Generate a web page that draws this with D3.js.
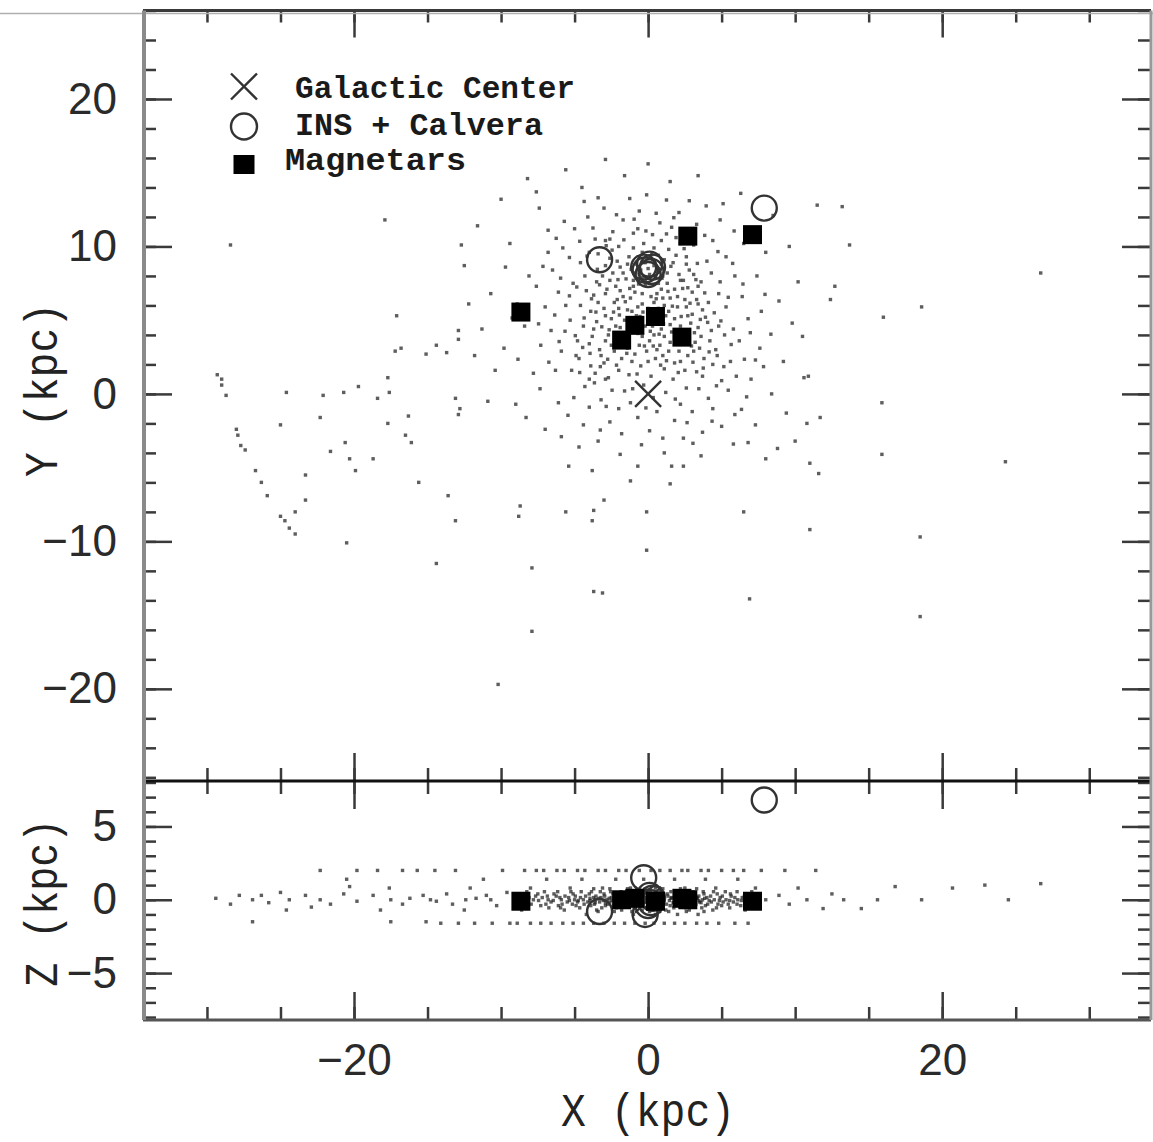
<!DOCTYPE html>
<html>
<head>
<meta charset="utf-8">
<script src="https://cdn.jsdelivr.net/npm/d3@7"></script>
<style>
body { margin: 0; background: #fff; }
</style>
</head>
<body>
<div id="container"></div>
<script>
// positions in kpc
var gcX = [0], gcY = [0], gcZ = [0];

var insX = [-0.3, 0.2, 0.1, -0.2, 0.3, 0.0, -3.3, 7.9];
var insY = [8.6, 8.3, 8.8, 8.4, 8.6, 8.1, 9.1, 12.6];
var insZ = [1.5, -0.2, 0.3, -1.0, 0.1, -0.4, -0.8, 6.8];

var magX = [-8.65, 2.7, 7.1, -0.9, 0.5, -1.8, 2.3];
var magY = [5.55, 10.7, 10.8, 4.65, 5.25, 3.65, 3.85];
var magZ = [-0.1, 0.0, -0.1, 0.1, -0.1, 0.0, 0.1];

// simulated population, X-Y projection
var xyDots = [
  // sparse field
  [-17.9,11.8],[-28.4,10.1],[-12.7,10.1],[-17.1,5.3],[-12.9,4.3],[-12.9,3.7],[-17.2,2.9],[-16.8,3.1],[-14.4,3.3],[-15.1,2.7],
  [-13.7,2.8],[-29.3,1.3],[-29.0,1.0],[-29.0,0.6],[-28.7,-0.1],[-24.6,0.1],[-22.1,-0.1],[-20.7,0.1],[-19.7,0.5],[-17.7,1.1],
  [-17.6,0.1],[-18.4,-0.3],[-13.1,-0.3],[-12.8,-1.0],[-12.9,-1.4],[-22.3,-1.6],[-25.0,-2.1],[-28.0,-2.4],[-27.9,-2.8],[-27.7,-3.5],
  [-27.4,-3.8],[-17.7,-2.0],[-16.3,-1.5],[-16.5,-2.8],[-16.1,-3.3],[-20.6,-3.3],[-21.6,-3.9],[-20.3,-4.4],[-18.7,-4.4],[-19.9,-5.2],
  [-26.7,-5.2],[-23.3,-5.5],[-26.3,-6.0],[-25.9,-6.9],[-23.3,-7.2],[-24.0,-8.0],[-25.0,-8.3],[-24.7,-8.6],[-24.4,-9.1],[-24.0,-9.5],
  [-20.5,-10.1],[-15.6,-6.0],[-13.6,-6.9],[-13.1,-8.6],[-8.7,-7.6],[-8.8,-8.3],[-14.4,-11.5],[-7.9,-11.8],[-7.9,-16.1],[-10.2,-19.7],
  [15.9,-4.1],[11.6,-5.4],[6.5,-8.0],[11.0,-9.2],[-0.1,-8.0],[-0.1,-10.6],[-3.7,-7.9],[-3.8,-8.6],[-5.6,-8.0],[-3.0,-7.2],
  [-3.1,-13.5],[-3.7,-13.4],[6.9,-13.9],[18.5,-15.1],[-1.2,-5.9],[1.5,-6.1],[-3.8,-5.2],[-5.4,-4.9],[-0.7,-4.9],[1.6,-4.9],
  [2.4,-4.9],[8.0,-4.4],[8.8,-3.7],[10.0,-3.2],[10.8,-2.0],[11.5,12.8],[13.2,12.7],[13.7,10.1],[12.7,7.3],[12.4,6.4],
  [16.0,5.2],[18.6,5.9],[10.5,3.9],[10.9,1.2],[26.7,8.2],[15.9,-0.6],[11.7,-1.6],[11.0,-4.7],[24.3,-4.6],[18.5,-9.7],
  // outer cloud
  [-12.5,8.7],[-11.6,11.4],[-10.0,13.2],[-8.2,14.6],[-5.6,15.2],[-2.9,15.9],[0.0,15.6],[-1.6,14.8],[3.4,14.8],[6.3,13.6],
  [8.5,12.1],[9.6,10.0],[10.2,7.6],[9.8,4.8],[9.2,2.2],[8.4,0.0],[7.3,-2.1],[5.8,-3.4],[3.6,-4.2],[1.1,-4.0],
  [-1.9,-4.1],[-4.7,-3.6],[-7.0,-2.4],[-9.0,-0.7],[-10.4,1.6],[-11.3,4.4],[-10.7,6.8],[-9.4,10.2],[-7.4,12.6],[-4.5,14.0],
  [-9.8,3.1],[-8.9,6.1],[-9.7,8.6],[-6.8,11.1],[-11.8,2.6],[-10.9,-0.5],[-8.3,-1.6],[-5.9,-2.9],[8.9,6.3],[8.0,9.6],
  [5.1,12.9],[1.5,14.4],[-7.6,13.7],[-12.2,6.1],[9.4,-1.3],[6.8,-3.3],[-3.4,-3.2],[0.1,-2.5],[2.4,-3.0],[10.6,1.1],
  // middle cloud
  [-6.5,8.4],[-5.8,9.9],[-5.0,11.2],[-4.1,12.0],[-3.0,12.6],[-1.7,11.8],[-0.6,12.4],[0.8,11.6],[2.1,12.3],[3.3,11.5],
  [4.4,10.4],[5.3,9.3],[5.9,8.0],[6.4,6.6],[6.8,5.1],[6.2,3.6],[5.6,2.2],[5.0,0.9],[4.1,-0.3],[3.0,-1.2],
  [1.8,-1.8],[0.6,-1.2],[-0.7,-1.6],[-2.0,-1.0],[-3.2,-0.4],[-4.3,0.5],[-5.2,1.6],[-5.9,2.9],[-6.6,4.3],[-7.0,5.9],
  [-6.1,6.9],[-5.3,5.0],[-4.8,3.6],[-4.6,8.9],[-3.6,10.5],[-2.4,11.0],[-1.0,10.9],[0.3,10.8],[1.9,10.6],[3.1,10.1],
  [4.0,9.0],[4.9,7.6],[5.3,5.9],[4.8,4.6],[4.6,3.0],[3.7,1.2],[2.6,0.4],[1.2,0.1],[-0.3,0.6],[-1.6,0.2],
  [-2.9,1.0],[-3.9,1.9],[-4.9,2.6],[-5.6,6.0],[-5.1,7.5],[-4.0,9.6],[-2.9,10.4],[5.8,4.4],[6.0,1.2],[4.4,-1.0],
  [2.2,-0.7],[-1.2,-0.6],[-4.0,-0.9],[-6.3,1.6],[-7.3,3.3],[-7.6,7.3],[-6.8,9.6],[-5.7,11.7],[-3.4,13.3],[-0.1,13.5],
  [2.8,13.1],[4.9,11.8],[6.5,10.2],[7.4,8.0],[7.7,5.6],[7.6,3.1],[7.0,1.0],[5.9,-1.4],[3.7,-2.6],[1.0,-3.0],
  [-1.8,-2.7],[-4.4,-2.1],[-6.1,-0.6],[-7.8,1.4],[-8.4,4.6],[-8.1,8.0],[6.7,-0.2],[7.3,2.3],[5.0,-2.2],[-2.6,-1.9],
  [-4.35,5.15],[-3.85,6.45],[-3.15,4.55],[-2.75,2.35],[-2.35,5.55],[-1.85,3.25],[-1.55,6.25],[-1.25,7.15],[-0.85,4.65],[-0.55,5.25],
  [-0.25,3.25],[0.15,4.25],[0.45,5.75],[0.75,4.05],[1.05,4.75],[1.35,6.95],[1.65,5.95],[1.95,4.35],[2.25,5.25],[2.55,3.75],
  [2.85,6.15],[3.15,4.15],[3.55,5.05],[3.85,6.85],[4.05,4.85],[-3.45,8.45],[-2.45,9.75],[-1.15,8.45],[0.25,9.45],[1.55,8.65],
  [2.45,9.85],[3.35,8.85],[-3.95,2.75],[-2.15,1.95],[-0.75,1.35],[0.85,1.95],[2.05,1.45],[3.05,2.15],[4.15,2.85],[4.95,4.95],
  [-4.85,7.25],[-4.45,3.15],[-3.25,1.85],[-1.45,2.75],[0.35,3.25],[1.25,2.25],[2.95,3.25],[3.75,1.75],[-0.35,5.55],[0.55,6.45],
  [-1.95,5.35],[-2.65,4.35],[-3.55,5.55],[-2.05,7.75],[-0.65,7.45],[0.95,7.85],[2.35,7.15],[3.25,7.75],[-2.85,10.05],[-1.65,10.45],
  [-0.15,11.05],[1.25,10.85],[2.95,10.55],[-4.15,9.35],[-5.35,6.65],[-5.65,4.25],[-4.95,3.95],[5.45,6.55],[5.65,3.35],[5.15,1.85],
  [4.65,0.55],[3.45,0.35],[1.85,-0.35],[0.35,-0.25],[-1.05,0.35],[-2.45,0.25],[-3.65,0.75],[-4.65,1.45],[-6.05,3.55],[-6.35,5.35],
  [-5.95,7.85],[-5.35,9.25],[-4.65,10.35],[-3.75,11.25],[-2.15,12.15],[-0.95,11.85],[0.55,12.25],[1.75,11.95],[3.85,10.75],[4.75,9.65],
  [5.75,8.85],[6.45,7.45],[6.95,4.15],[6.55,2.35],[5.45,0.25],[4.35,-1.85],[2.65,-1.95],[-0.15,-0.95],[-2.85,-0.85],[-5.05,-0.25],
  [-6.75,2.15],[-7.45,4.75],[-7.15,8.65],[-6.25,10.55],[-4.35,13.05],[-1.25,13.25],[1.25,13.15],[3.95,12.75],[5.85,11.05],[7.95,6.75],
  [8.35,4.05],[7.85,1.85],[6.35,-1.05],[3.05,-3.35],[-0.45,-3.45],[-3.25,-2.45],[-5.45,-1.45],[-7.35,0.35],[-8.85,2.35],[-9.25,5.15],
  // core
  [-2.8,7.1],[-2.1,6.4],[-1.5,7.8],[-0.9,6.9],[-0.2,7.4],[0.6,6.8],[1.3,7.5],[2.0,6.6],[2.6,5.9],[1.8,5.1],
  [0.9,4.4],[0.1,3.6],[-0.7,4.1],[-1.4,3.1],[-2.2,4.6],[-2.9,5.3],[-3.4,6.2],[-1.1,5.6],[-0.4,6.1],[0.3,5.2],
  [1.1,6.0],[1.6,4.2],[2.3,3.4],[2.9,4.8],[3.3,6.4],[2.4,7.7],[1.0,8.0],[-0.6,8.1],[-1.9,8.6],[-2.6,9.2],
  [-3.1,8.0],[-3.7,4.4],[-2.5,3.3],[-1.8,2.4],[-0.9,2.7],[0.5,2.4],[1.4,2.9],[2.2,2.2],[3.1,2.9],[3.6,3.9],
  [3.9,5.2],[3.4,7.3],[2.8,8.4],[1.7,8.9],[0.7,9.4],[-0.4,9.6],[-1.3,9.3],[-2.2,7.3],[-1.6,5.0],[-0.2,4.6],
  [0.8,3.3],[1.9,3.8],[2.7,5.3],[1.5,6.5],[0.2,6.6],[-0.8,5.3],[-2.0,5.8],[-2.7,4.0],[-1.2,4.3],[0.4,4.0],
  [1.2,5.3],[-0.1,2.9],[-3.3,3.0],[-3.9,5.6],[-4.2,7.0],[-3.5,7.6],[4.3,4.3],[4.1,6.2],[3.8,2.4],[2.5,1.6],
  [1.1,1.7],[-0.5,1.9],[-2.0,1.6],[-3.0,2.1],[-4.0,3.4],[-1.0,7.3],[0.9,7.1],[2.1,8.1],[3.0,6.9],[-2.4,8.2],
  [0.0,5.8],[-0.6,3.3],[1.5,3.5],[3.2,3.5],[-1.7,6.6],[0.5,7.9],[-0.3,10.2],[1.4,9.8],[-2.0,10.0],[2.6,9.3],
  [-3.6,1.4],[-2.7,1.1],[-1.3,1.3],[0.2,1.2],[1.7,1.0],[3.3,1.5],[4.4,2.0],[-3.2,2.6],[-2.3,2.9],[-1.1,2.2],
  [0.0,2.2],[1.0,2.6],[1.8,2.1],[2.7,2.6],[3.5,3.1],[-3.8,3.9],[-2.9,3.6],[-2.0,3.9],[-1.5,3.6],[-0.4,3.9],
  [0.6,3.0],[1.1,3.9],[2.1,2.9],[2.6,4.2],[3.4,4.5],[4.2,3.6],[-3.5,4.9],[-2.5,5.1],[-1.9,4.5],[-1.1,4.9],
  [-0.5,4.4],[0.3,4.6],[0.8,5.0],[1.5,4.7],[2.2,4.6],[3.0,5.4],[3.7,5.7],[-3.0,5.8],[-2.3,6.2],[-1.4,5.7],
  [-0.7,5.9],[0.1,5.5],[0.7,5.8],[1.4,5.6],[2.0,5.9],[2.5,6.4],[3.4,6.1],[-3.7,6.7],[-2.9,6.8],[-1.9,7.0],
  [-1.2,6.5],[-0.4,6.8],[0.4,6.2],[1.0,6.5],[1.8,7.1],[2.7,7.2],[3.6,7.6],[-3.3,7.4],[-2.6,7.7],[-1.7,8.2],
  [-1.0,7.7],[-0.2,7.7],[0.7,7.5],[1.3,8.2],[2.2,7.7],[3.1,8.1],[-2.9,8.7],[-2.1,9.0],[-1.4,8.8],[1.1,9.1],
  [1.9,9.4],[2.6,8.8],[-3.4,9.5],[-1.0,9.9],[0.4,9.9],[2.2,10.2],[-2.6,10.5],[0.9,10.4],[-0.7,11.2],[1.6,11.3],
  [4.5,5.5],[4.8,6.8],[4.3,8.2],[4.7,2.6],[-4.4,4.6],[-4.6,6.0],[-4.3,8.0],[-4.7,2.4],[5.2,4.0],[-4.0,1.0],
  // near the Sun
  [-0.5,8.4],[0.4,8.7],[-0.2,8.9],[0.7,8.3],[-0.8,8.8],[0.1,8.1],[0.3,9.1],[-0.4,7.9],[0.9,8.8],[-0.9,8.2],[0.0,8.5],[0.5,8.0]
];

// simulated population, X-Z projection
var xzDots = [
  // left field
  [-29.4,0.1],[-28.4,-0.3],[-27.8,0.3],[-26.9,0.0],[-26.9,-1.5],[-26.3,0.3],[-25.8,-0.2],[-25.0,0.5],[-24.6,-0.7],[-24.4,0.0],
  [-23.3,0.3],[-22.9,-0.5],[-22.3,2.0],[-22.3,0.0],[-21.6,-0.3],[-20.7,0.4],[-20.5,1.4],[-20.3,0.9],[-19.8,2.0],[-19.8,-0.1],
  [-18.7,0.3],[-18.4,2.0],[-18.2,-0.7],[-17.6,0.8],[-17.5,-1.5],[-17.5,0.0],[-16.7,2.0],[-16.7,-0.3],[-16.2,0.1],[-15.7,2.0],
  [-15.3,0.3],[-15.1,-1.5],[-14.8,0.0],[-14.5,2.0],[-14.4,-0.1],[-14.1,-1.6],[-13.7,0.4],[-13.3,-0.3],[-13.1,2.0],[-12.9,-1.6],
  [-12.5,-0.7],[-12.4,0.0],[-12.1,0.8],[-11.8,-1.6],[-11.7,0.1],[-11.2,1.4],[-11.0,0.3],[-10.7,0.0],[-10.6,-1.6],[-10.3,-0.4],
  [-9.9,2.0],[-9.6,0.5],[-9.4,-1.6],[-9.1,0.0],
  // central band
  [-8.4,2.0],[-7.6,2.0],[-7.1,2.0],[-6.2,2.0],[-5.7,2.0],[-4.8,2.0],[-4.3,2.0],[-3.4,2.0],[-2.9,2.0],[-2.0,2.0],
  [-1.5,2.0],[-0.6,2.0],[0.2,2.0],[0.8,2.0],[1.5,2.0],[2.3,2.0],[2.7,2.0],[3.6,2.0],[4.1,2.0],[5.0,2.0],
  [5.8,2.0],[6.5,2.0],[7.7,2.0],[9.3,2.0],
  [-6.9,1.4],[-4.5,1.4],[-2.2,1.4],[-0.3,1.4],[1.8,1.4],[3.9,1.4],[6.1,1.4],
  [-8.0,0.8],[-5.3,0.8],[-3.1,0.8],[-1.2,0.8],[0.5,0.8],[2.5,0.8],[4.6,0.8],[7.3,0.8],
  [-3.7,0.75],[-2.6,0.75],[-1.4,0.75],[-0.2,0.75],[1.0,0.75],[2.2,0.75],[3.3,0.75],
  [-8.25,0.55],[-7.05,0.55],[-6.15,0.55],[-5.25,0.55],[-4.55,0.55],[-3.85,0.55],[-3.25,0.55],[-2.55,0.55],[-1.85,0.55],[-1.25,0.55],
  [-0.55,0.55],[0.15,0.55],[0.85,0.55],[1.55,0.55],[2.25,0.55],[3.05,0.55],[3.75,0.55],[4.45,0.55],[5.25,0.55],[6.05,0.55],[7.05,0.55],
  [-7.5,0.4],[-6.4,0.4],[-5.1,0.4],[-4.0,0.4],[-3.0,0.4],[-2.4,0.4],[-1.6,0.4],[-0.9,0.4],[-0.2,0.4],[0.6,0.4],
  [1.3,0.4],[2.0,0.4],[2.9,0.4],[3.8,0.4],[4.7,0.4],[5.6,0.4],[6.8,0.4],
  [-8.45,0.25],[-7.65,0.25],[-6.85,0.25],[-6.25,0.25],[-5.65,0.25],[-4.95,0.25],[-4.25,0.25],[-3.55,0.25],[-2.95,0.25],[-2.05,0.25],
  [-1.55,0.25],[-0.75,0.25],[0.05,0.25],[0.65,0.25],[1.35,0.25],[2.05,0.25],[2.75,0.25],[3.45,0.25],[4.25,0.25],[5.05,0.25],
  [5.65,0.25],[6.55,0.25],[7.25,0.25],
  [-8.1,0.15],[-7.2,0.15],[-6.0,0.15],[-5.4,0.15],[-4.6,0.15],[-3.7,0.15],[-3.2,0.15],[-2.5,0.15],[-1.9,0.15],[-1.1,0.15],
  [-0.5,0.15],[0.1,0.15],[0.9,0.15],[1.6,0.15],[2.4,0.15],[3.3,0.15],[4.0,0.15],[4.9,0.15],[5.9,0.15],[6.4,0.15],[7.5,0.15],
  [-3.95,0.1],[-3.35,0.1],[-2.65,0.1],[-2.15,0.1],[-1.45,0.1],[-0.85,0.1],[-0.25,0.1],[0.35,0.1],[0.95,0.1],[1.55,0.1],
  [2.15,0.1],[2.65,0.1],[3.35,0.1],[3.85,0.1],
  [-7.8,0.0],[-6.8,0.0],[-5.9,0.0],[-5.0,0.0],[-4.4,0.0],[-3.6,0.0],[-2.8,0.0],[-2.2,0.0],[-1.4,0.0],[-0.8,0.0],
  [-0.1,0.0],[0.4,0.0],[1.1,0.0],[1.8,0.0],[2.6,0.0],[3.1,0.0],[3.7,0.0],[4.5,0.0],[5.3,0.0],[6.1,0.0],[6.9,0.0],[8.0,0.0],
  [-8.55,-0.05],[-7.45,-0.05],[-6.45,-0.05],[-5.35,-0.05],[-4.75,-0.05],[-3.95,-0.05],[-3.05,-0.05],[-2.45,-0.05],[-1.65,-0.05],[-0.95,-0.05],
  [-0.35,-0.05],[0.25,-0.05],[0.85,-0.05],[1.45,-0.05],[2.15,-0.05],[2.85,-0.05],[3.45,-0.05],[4.15,-0.05],[4.85,-0.05],[5.55,-0.05],
  [6.35,-0.05],[7.15,-0.05],
  [-8.3,-0.15],[-6.6,-0.15],[-5.5,-0.15],[-4.8,-0.15],[-4.1,-0.15],[-3.3,-0.15],[-2.6,-0.15],[-1.7,-0.15],[-1.0,-0.15],[-0.3,-0.15],
  [0.3,-0.15],[1.0,-0.15],[1.9,-0.15],[2.7,-0.15],[3.5,-0.15],[4.3,-0.15],[5.1,-0.15],[5.8,-0.15],[6.7,-0.15],
  [-3.6,-0.2],[-2.9,-0.2],[-2.2,-0.2],[-1.3,-0.2],[-0.6,-0.2],[0.0,-0.2],[0.6,-0.2],[1.7,-0.2],[2.4,-0.2],[3.1,-0.2],[3.6,-0.2],
  [-7.95,-0.3],[-6.95,-0.3],[-5.85,-0.3],[-5.15,-0.3],[-4.35,-0.3],[-3.65,-0.3],[-2.75,-0.3],[-1.95,-0.3],[-1.15,-0.3],[-0.45,-0.3],
  [0.45,-0.3],[1.25,-0.3],[2.05,-0.3],[2.45,-0.3],[3.25,-0.3],[4.05,-0.3],[4.75,-0.3],[5.45,-0.3],[6.05,-0.3],[7.05,-0.3],
  [-7.3,-0.4],[-6.1,-0.4],[-4.9,-0.4],[-3.9,-0.4],[-2.9,-0.4],[-2.3,-0.4],[-1.3,-0.4],[-0.6,-0.4],[0.2,-0.4],[0.7,-0.4],
  [1.5,-0.4],[2.2,-0.4],[3.0,-0.4],[3.9,-0.4],[5.0,-0.4],[6.3,-0.4],
  [-8.15,-0.55],[-6.75,-0.55],[-5.95,-0.55],[-4.65,-0.55],[-3.15,-0.55],[-2.15,-0.55],[-0.95,-0.55],[0.05,-0.55],[0.95,-0.55],[1.75,-0.55],
  [2.55,-0.55],[3.65,-0.55],[4.65,-0.55],[5.55,-0.55],[6.85,-0.55],
  [-8.6,-0.7],[-5.7,-0.7],[-3.5,-0.7],[-1.8,-0.7],[-0.4,-0.7],[1.2,-0.7],[2.8,-0.7],[4.4,-0.7],[6.6,-0.7],
  [-3.4,-0.8],[-2.3,-0.8],[-1.1,-0.8],[0.1,-0.8],[1.4,-0.8],[2.6,-0.8],[3.8,-0.8],
  [-4.2,-1.0],[-1.0,-1.0],[0.5,-1.0],[2.0,-1.0],[3.4,-1.0],
  [-8.9,-1.6],[-8.0,-1.6],[-7.3,-1.6],[-6.6,-1.6],[-5.8,-1.6],[-5.1,-1.6],[-4.4,-1.6],[-3.7,-1.6],[-3.0,-1.6],[-2.3,-1.6],
  [-1.6,-1.6],[-0.9,-1.6],[-0.2,-1.6],[0.4,-1.6],[1.1,-1.6],[1.8,-1.6],[2.5,-1.6],[3.3,-1.6],[4.0,-1.6],[4.8,-1.6],
  [5.9,-1.6],[6.8,-1.6],
  // right field
  [8.9,0.3],[9.6,-0.3],[10.2,0.8],[10.8,0.0],[11.4,2.0],[11.9,-0.6],[12.5,0.4],[13.3,0.0],[14.5,-0.6],[15.6,0.0],
  [16.8,0.9],[18.6,0.0],[20.7,0.8],[22.9,1.0],[24.5,0.0],[26.7,1.1]
];

var xMinor = d3.range(-30, 31, 5);
var xMajor = [-20, 0, 20];
var yMinor = d3.range(-26, 27, 2);
var yMajor = [-20, -10, 0, 10, 20];
var zMinor = d3.range(-8, 9, 1);
var zMajor = [-5, 0, 5];

var W = 1153, H = 1142;
var frame = {left: 143, right: 1151, top: 10.5, mid: 781, bottom: 1020};

var svg = d3.select("#container").append("svg").attr("width", W).attr("height", H)
    .style("font-family", "'Liberation Sans', Arial, sans-serif");

var x = d3.scaleLinear().domain([-34.35, 34.2]).range([frame.left, frame.right]);
var yTop = d3.scaleLinear().domain([-26.25, 26.0]).range([frame.mid, frame.top]);
var zBot = d3.scaleLinear().domain([-8.2, 8.1]).range([frame.bottom, frame.mid]);

var dotSize = 3.4;
function drawDots(data, yScale) {
    svg.append("g").selectAll("rect").data(data).enter().append("rect")
        .attr("x", function (d) { return x(d[0]) - dotSize / 2; })
        .attr("y", function (d) { return yScale(d[1]) - dotSize / 2; })
        .attr("width", dotSize).attr("height", dotSize)
        .attr("fill", "#1a1a1a").attr("fill-opacity", 0.7);
}
drawDots(xyDots, yTop);
drawDots(xzDots, zBot);

// markers
function cross(g, cx, cy, r) {
    g.append("path").attr("d", "M" + (cx - r) + "," + (cy - r) + "L" + (cx + r) + "," + (cy + r) +
        "M" + (cx - r) + "," + (cy + r) + "L" + (cx + r) + "," + (cy - r))
        .attr("stroke", "#333").attr("stroke-width", 2.4).attr("fill", "none");
}
function drawMarkers(yScale, gcV, insV, magV) {
    var g = svg.append("g");
    gcX.forEach(function (v, i) { cross(g, x(v), yScale(gcV[i]), 13); });
    g.selectAll("circle").data(insX).enter().append("circle")
        .attr("cx", function (d) { return x(d); })
        .attr("cy", function (d, i) { return yScale(insV[i]); })
        .attr("r", 12.5).attr("fill", "none").attr("stroke", "#333").attr("stroke-width", 2.4);
    g.selectAll("rect").data(magX).enter().append("rect")
        .attr("x", function (d) { return x(d) - 9.5; })
        .attr("y", function (d, i) { return yScale(magV[i]) - 9.5; })
        .attr("width", 19).attr("height", 19).attr("fill", "#000");
}
drawMarkers(yTop, gcY, insY, magY);
drawMarkers(zBot, gcZ, insZ, magZ);

// axes
function tickAxis(axisFn, scale, values, size, labels, pad) {
    return axisFn(scale).tickValues(values).tickSize(-size).tickPadding(pad || 0)
        .tickFormat(labels ? d3.format("d") : "");
}
function addAxis(tx, ty, axis) {
    var g = svg.append("g").attr("transform", "translate(" + tx + "," + ty + ")").call(axis);
    g.select(".domain").remove();
    g.selectAll(".tick line").attr("stroke", "#3a3a3a").attr("stroke-width", 2.5);
    g.selectAll(".tick text").attr("font-size", 44).attr("fill", "#2a2a2a")
        .attr("font-family", "'Liberation Sans', Arial, sans-serif");
    return g;
}
// top panel
addAxis(0, frame.top, tickAxis(d3.axisTop, x, xMinor, 12));
addAxis(0, frame.top, tickAxis(d3.axisTop, x, xMajor, 27));
addAxis(0, frame.mid, tickAxis(d3.axisBottom, x, xMinor, 13));
addAxis(0, frame.mid, tickAxis(d3.axisBottom, x, xMajor, 28));
addAxis(frame.left, 0, tickAxis(d3.axisLeft, yTop, yMinor, 13));
addAxis(frame.left, 0, tickAxis(d3.axisLeft, yTop, yMajor, 29, true, 26));
addAxis(frame.right, 0, tickAxis(d3.axisRight, yTop, yMinor, 13));
addAxis(frame.right, 0, tickAxis(d3.axisRight, yTop, yMajor, 29));
// bottom panel
addAxis(0, frame.mid, tickAxis(d3.axisTop, x, xMinor, 13));
addAxis(0, frame.mid, tickAxis(d3.axisTop, x, xMajor, 28));
addAxis(0, frame.bottom, tickAxis(d3.axisBottom, x, xMinor, 13));
addAxis(0, frame.bottom, tickAxis(d3.axisBottom, x, xMajor, 28, true, 24))
    .selectAll(".tick text").attr("y", 24);
addAxis(frame.left, 0, tickAxis(d3.axisLeft, zBot, zMinor, 13));
addAxis(frame.left, 0, tickAxis(d3.axisLeft, zBot, zMajor, 29, true, 26));
addAxis(frame.right, 0, tickAxis(d3.axisRight, zBot, zMinor, 13));
addAxis(frame.right, 0, tickAxis(d3.axisRight, zBot, zMajor, 29));

// frame
function hline(y, x1, x2, color, w) {
    svg.append("line").attr("x1", x1).attr("x2", x2).attr("y1", y).attr("y2", y)
        .attr("stroke", color).attr("stroke-width", w);
}
function vline(xv, y1, y2, color, w) {
    svg.append("line").attr("x1", xv).attr("x2", xv).attr("y1", y1).attr("y2", y2)
        .attr("stroke", color).attr("stroke-width", w);
}
hline(13.5, 0, W, "#b0b0b0", 1.5);
hline(frame.top, frame.left, frame.right, "#3a3a3a", 3);
hline(frame.mid, frame.left, frame.right, "#111", 3);
hline(frame.bottom, frame.left, frame.right, "#555", 3);
vline(frame.left + 1, frame.top, frame.bottom, "#8a8a8a", 4);
vline(frame.right, frame.top, frame.bottom, "#999", 3);

// axis titles
var mono = "'Liberation Mono', 'Courier New', monospace";
function title(tr, label, len) {
    svg.append("text").attr("transform", tr).attr("text-anchor", "middle")
        .attr("font-family", mono).attr("font-size", 46).attr("fill", "#222")
        .attr("textLength", len).attr("lengthAdjust", "spacingAndGlyphs").text(label);
}
title("translate(" + x(0) + ",1126)", "X (kpc)", 174);
title("translate(57," + (yTop(0) - 4) + ") rotate(-90)", "Y (kpc)", 174);
title("translate(57," + zBot(-0.2) + ") rotate(-90)", "Z (kpc)", 168);

// legend
var legendLabels = ["Galactic Center", "INS + Calvera", "Magnetars"];
var legendWidths = [280, 248, 181];
var legendX = [295, 295, 285];
var legendY = [98, 135, 170];
var lg = svg.append("g");
cross(lg, 244, 86.5, 13);
lg.append("circle").attr("cx", 244).attr("cy", 126.5).attr("r", 13)
    .attr("fill", "none").attr("stroke", "#333").attr("stroke-width", 2.4);
lg.append("rect").attr("x", 233.5).attr("y", 155).attr("width", 21).attr("height", 19).attr("fill", "#000");
lg.selectAll("text").data(legendLabels).enter().append("text")
    .attr("x", function (d, i) { return legendX[i]; })
    .attr("y", function (d, i) { return legendY[i]; })
    .attr("font-family", mono).attr("font-size", 32).attr("font-weight", "bold").attr("fill", "#1a1a1a")
    .attr("textLength", function (d, i) { return legendWidths[i]; })
    .attr("lengthAdjust", "spacingAndGlyphs")
    .text(function (d) { return d; });
</script>
</body>
</html>
